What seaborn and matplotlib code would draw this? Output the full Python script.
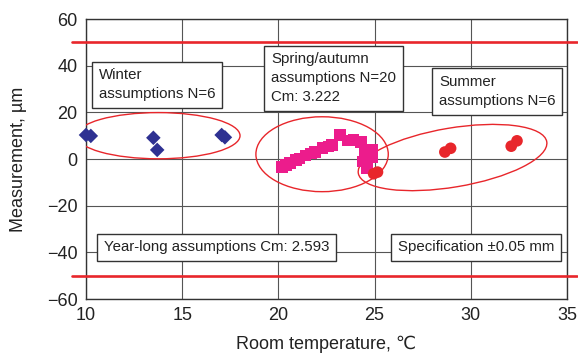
import numpy as np
import pandas as pd
import matplotlib
matplotlib.use('Agg')
import matplotlib.pyplot as plt
from matplotlib.patches import Ellipse
from matplotlib.transforms import Affine2D
from matplotlib import font_manager
import seaborn as sns

# Data
winter_temp = [10.0, 10.25, 13.5, 13.7, 17.05, 17.22]
winter_meas = [10.3, 9.9, 9.1, 3.9, 10.3, 9.3]

spring_temp = [20.2, 20.4, 20.6, 20.9, 21.1, 21.4, 21.7, 21.9, 22.3, 22.6,
               22.8, 23.2, 23.6, 23.9, 24.3, 24.5, 24.4, 24.6, 24.9, 24.9]
spring_meas = [-3.3, -2.5, -1.6, -0.5, 0.3, 1.5, 2.4, 3.1, 4.6, 5.3,
               6.0, 10.3, 8.0, 8.1, 7.4, 3.1, -1.1, -4.0, 3.9, 1.0]

summer_temp = [24.95, 25.15, 28.65, 28.95, 32.1, 32.4]
summer_meas = [-6.3, -5.6, 3.0, 4.6, 5.5, 7.8]

spec_limit = 50
x_ticks = [10, 15, 20, 25, 30, 35]
y_ticks = [-60, -40, -20, 0, 20, 40, 60]

labels = {
    'winter': 'Winter\nassumptions N=6',
    'spring': 'Spring/autumn\nassumptions N=20\nCm: 3.222',
    'summer': 'Summer\nassumptions N=6',
    'year': 'Year-long assumptions Cm: 2.593',
    'spec': 'Specification \u00b10.05 mm',
}

sns.set_theme(style='white')
plt.rcParams['font.family'] = ['Liberation Sans', 'DejaVu Sans']
names = {f.name for f in font_manager.fontManager.ttflist}
box_font = ['Liberation Sans Narrow', 'DejaVu Sans'] if 'Liberation Sans Narrow' in names else ['Liberation Sans', 'DejaVu Sans']
box_size = 13 if 'Liberation Sans Narrow' in names else 10.8

fig = plt.figure(figsize=(5.78, 3.56), dpi=100)
ax = fig.add_axes([0.1488, 0.160, 0.981 - 0.1488, 0.9466 - 0.160])

ax.set_xlim(10, 35)
ax.set_ylim(-60, 60)
ax.set_xticks(x_ticks)
ax.set_yticks(y_ticks)
ax.grid(True, color='#555555', lw=0.8)
ax.set_axisbelow(True)
for s in ax.spines.values():
    s.set_color('#333333')
    s.set_linewidth(1.0)
ax.tick_params(length=0, labelsize=13, colors='#222222', pad=6)

# spec limits, drawn a bit past the frame
for lim in (spec_limit, -spec_limit):
    ax.axhline(lim, xmin=-0.03, xmax=1.02, color='#E8262B', lw=1.9,
               clip_on=False, zorder=3)

# ellipses drawn in a space with equal pixel units
k = 2.333 / 19.24
tr = Affine2D().scale(1, 1 / k) + ax.transData
for (cx, cy, w, h, ang) in [(13.76, 10.0, 8.49, 19.8 * k, 0),
                            (22.27, 2.06, 6.88, 32.1 * k, 0),
                            (29.05, 0.64, 9.93, 3.07, 9.5)]:
    ax.add_patch(Ellipse((cx, cy * k), w, h, angle=ang, transform=tr,
                         fill=False, edgecolor='#E8262B', lw=1.0, zorder=4))

sns.scatterplot(x=winter_temp, y=winter_meas, marker='D', s=55, color='#2E3192',
                edgecolor='none', ax=ax, zorder=5, clip_on=False)
sns.scatterplot(x=spring_temp, y=spring_meas, marker='s', s=70, color='#EC1C8C',
                edgecolor='none', ax=ax, zorder=5)
sns.scatterplot(x=summer_temp, y=summer_meas, marker='o', s=70, color='#E8262B',
                edgecolor='none', ax=ax, zorder=6)

box = dict(boxstyle='square,pad=0.45', facecolor='white', edgecolor='#333333', lw=1.0)
txt = dict(ha='left', va='top', fontsize=box_size, family=box_font, color='#222222',
           bbox=box, zorder=7, linespacing=1.45)
ax.text(10.65, 38.8, labels['winter'], **txt)
ax.text(19.61, 45.7, labels['spring'], **txt)
ax.text(28.34, 36.0, labels['summer'], **txt)
ax.text(10.93, -34.9, labels['year'], **txt)
ax.text(26.19, -34.9, labels['spec'], **txt)

ax.set_xlabel('Room temperature, \u2103', fontsize=13, color='#222222', labelpad=8)
ax.set_ylabel('Measurement, \u00b5m', fontsize=13, color='#222222', labelpad=14)

fig.savefig('out.png', dpi=100)
